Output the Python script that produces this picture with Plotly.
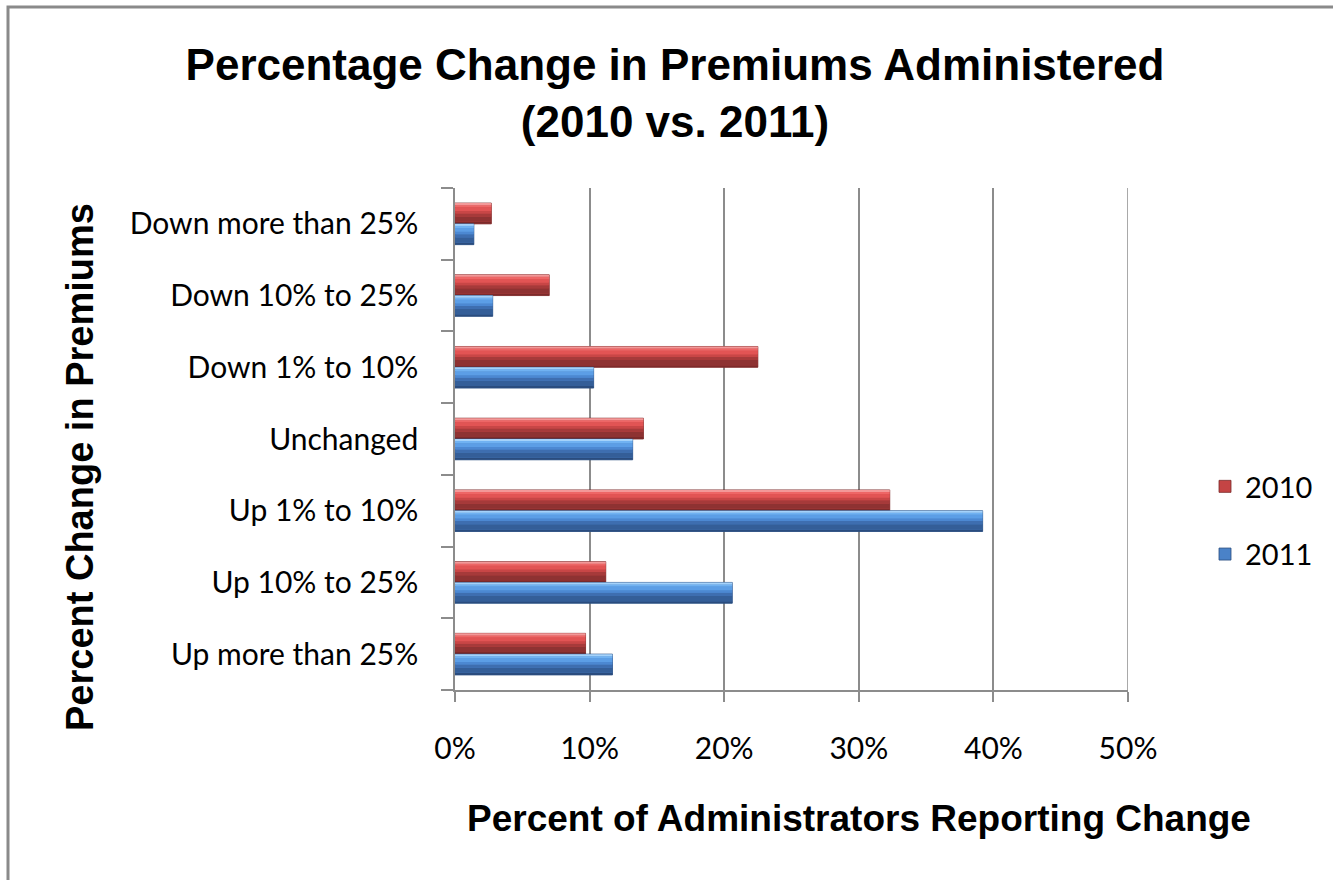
import plotly.graph_objects as go

# Categories listed bottom-to-top (first category sits at the bottom of the axis)
categories = [
    "Up more than 25%",
    "Up 10% to 25%",
    "Up 1% to 10%",
    "Unchanged",
    "Down 1% to 10%",
    "Down 10% to 25%",
    "Down more than 25%",
]
pct_2010 = [9.7, 11.2, 32.3, 14.0, 22.5, 7.0, 2.7]
pct_2011 = [11.7, 20.6, 39.2, 13.2, 10.3, 2.8, 1.4]
x_ticks = [0, 10, 20, 30, 40, 50]
x_tick_labels = ["0%", "10%", "20%", "30%", "40%", "50%"]

W, H = 1333, 880
ML, MR, MT, MB = 455, 205, 188, 190
PW, PH = W - ML - MR, H - MT - MB


def px_x(p):
    return (p - ML) / PW


def px_y(p):
    return (H - MB - p) / PH


BAR_W = 0.29
LABEL_FONT = "Lato, Carlito, Calibri, sans-serif"
BOLD_FONT = "Liberation Sans, Arial, sans-serif"

# vertical shading of each bar, bottom to top: (start fraction, height fraction, colour)
shade_2010 = [
    (0.00, 0.10, "#7c2a2a"),
    (0.10, 0.25, "#8e3232"),
    (0.35, 0.15, "#a63a3a"),
    (0.50, 0.12, "#c84646"),
    (0.62, 0.18, "#e25454"),
    (0.80, 0.10, "#ee6666"),
    (0.90, 0.10, "#f39898"),
]
shade_2011 = [
    (0.00, 0.10, "#2a4c7e"),
    (0.10, 0.25, "#345e98"),
    (0.35, 0.15, "#3e6eb0"),
    (0.50, 0.12, "#4c88d2"),
    (0.62, 0.18, "#5c9ee6"),
    (0.80, 0.10, "#70b2f2"),
    (0.90, 0.10, "#a4d2fa"),
]

series = [
    ("2010", pct_2010, 0.0, "#c44444", "#7a2a2a", shade_2010, 1),
    ("2011", pct_2011, -BAR_W, "#4a82c8", "#2a4c7e", shade_2011, 2),
]

fig = go.Figure()

for name, vals, off, base, edge, shades, rank in series:
    # full bar (legend entry)
    fig.add_trace(go.Bar(
        name=name, x=vals, y=categories, orientation="h",
        width=BAR_W, offset=off,
        marker=dict(color=base, line=dict(color=edge, width=0.8)),
        legendgroup=name, legendrank=rank,
    ))
    # shading bands layered over the bar
    for start, frac, col in shades:
        fig.add_trace(go.Bar(
            x=vals, y=categories, orientation="h",
            width=BAR_W * frac, offset=off + BAR_W * start,
            marker=dict(color=col, line=dict(width=0)),
            showlegend=False, hoverinfo="skip", legendgroup=name,
        ))

fig.update_layout(
    width=W, height=H,
    margin=dict(l=ML, r=MR, t=MT, b=MB),
    barmode="overlay",
    paper_bgcolor="white",
    plot_bgcolor="white",
    title=dict(
        text="Percentage Change in Premiums Administered<br>(2010 vs. 2011)",
        x=675 / W, xref="container", xanchor="center",
        y=1 - 80 / H, yref="container", yanchor="middle",
        font=dict(family=BOLD_FONT, size=44, color="black", weight="bold"),
    ),
    xaxis=dict(
        range=[0, 50], tickvals=x_ticks, ticktext=x_tick_labels,
        showgrid=True, gridcolor="#8c8c8c", gridwidth=1.5,
        showline=True, linecolor="#8c8c8c", linewidth=1.5,
        ticks="outside", ticklen=10, tickcolor="#8c8c8c", tickwidth=1.5,
        ticklabelstandoff=21,
        tickfont=dict(family=LABEL_FONT, size=30, color="black"),
        zeroline=False,
    ),
    yaxis=dict(
        categoryorder="array", categoryarray=categories,
        range=[-0.5, 6.5],
        showline=True, linecolor="#8c8c8c", linewidth=1.5,
        ticks="outside", ticklen=12, tickcolor="#8c8c8c", tickwidth=1.5,
        tickson="boundaries", ticklabelstandoff=29,
        tickfont=dict(family=LABEL_FONT, size=30, color="black"),
        showgrid=False,
    ),
    legend=dict(
        x=px_x(1205), y=px_y(461), xanchor="left", yanchor="top",
        font=dict(family=LABEL_FONT, size=29, color="black"),
        tracegroupgap=27, bgcolor="rgba(0,0,0,0)",
    ),
    annotations=[
        dict(
            text="Percent Change in Premiums", textangle=-90,
            x=px_x(80), y=px_y(467), xref="paper", yref="paper",
            xanchor="center", yanchor="middle", showarrow=False,
            font=dict(family=BOLD_FONT, size=38, color="black", weight="bold"),
        ),
        dict(
            text="Percent of Administrators Reporting Change",
            x=px_x(859), y=px_y(818), xref="paper", yref="paper",
            xanchor="center", yanchor="middle", showarrow=False,
            font=dict(family=BOLD_FONT, size=37, color="black", weight="bold"),
        ),
    ],
    shapes=[
        # outer chart frame
        dict(type="rect", xref="paper", yref="paper",
             x0=px_x(8), y0=px_y(940), x1=px_x(1400), y1=px_y(7),
             line=dict(color="#8a8a8a", width=3), layer="below"),
        # short extension of the value axis to the left of the category axis
        dict(type="line", xref="paper", yref="paper",
             x0=px_x(443), y0=0, x1=0, y1=0,
             line=dict(color="#8c8c8c", width=1.5)),
        # gridline at the upper end of the value range
        dict(type="line", xref="x", yref="paper",
             x0=x_ticks[-1], x1=x_ticks[-1], y0=0, y1=1,
             line=dict(color="#8c8c8c", width=1.5), layer="below"),
    ],
)

fig.write_html("out.html")
